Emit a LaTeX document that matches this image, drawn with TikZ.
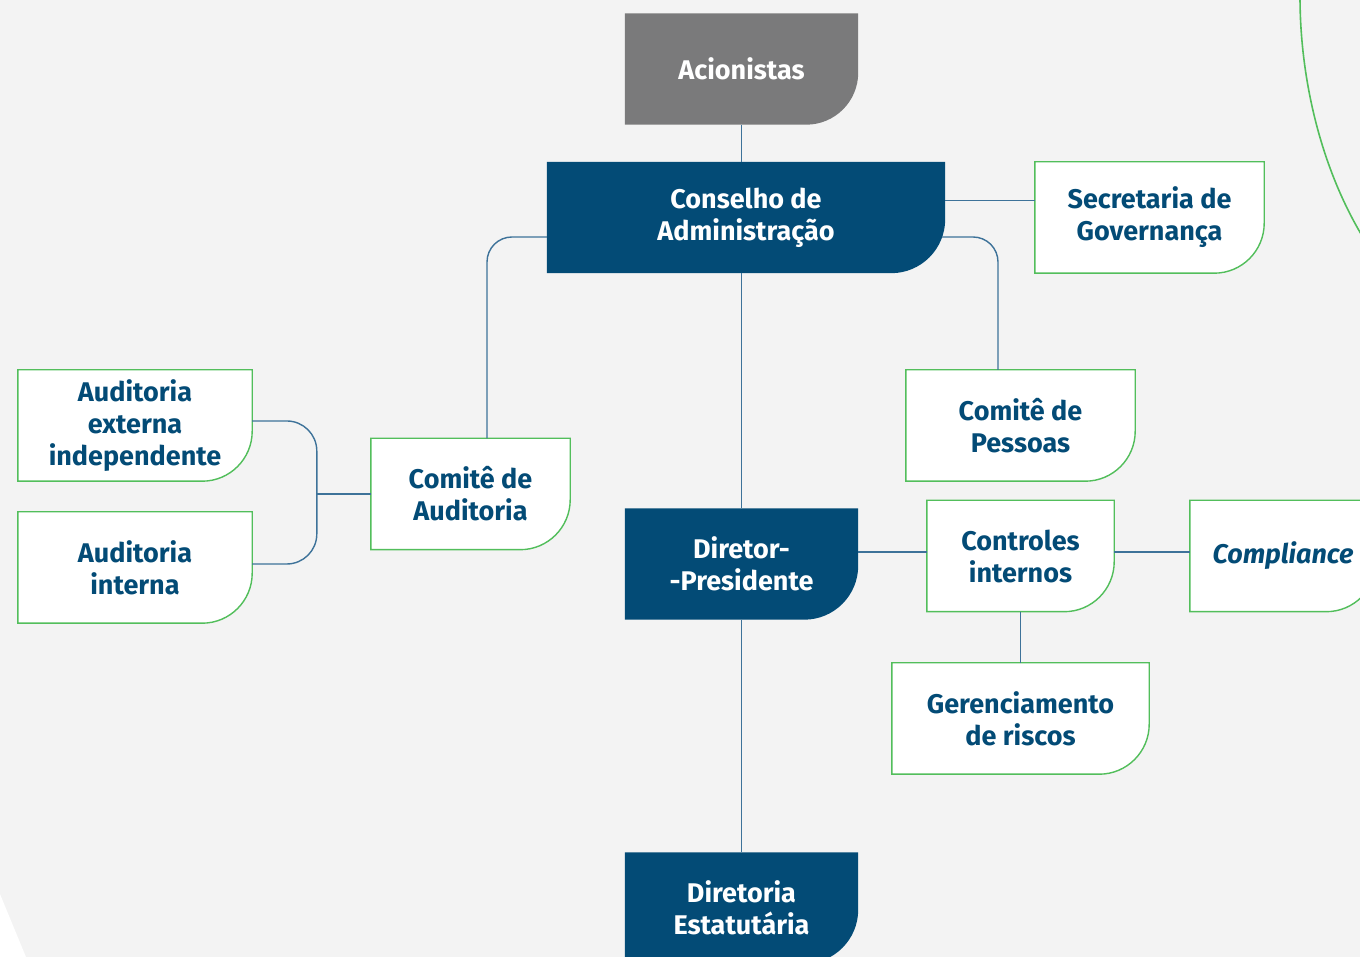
\documentclass[tikz,border=0pt]{standalone}
\usepackage{fontspec}
\setmainfont{Fira Sans}
\usetikzlibrary{positioning,backgrounds,calc}
\definecolor{navy}{HTML}{034B76}
\definecolor{stone}{HTML}{7A7A7B}
\definecolor{leafgreen}{HTML}{52BE5B}
\definecolor{wire}{HTML}{3D7299}
\definecolor{paper}{HTML}{F3F3F3}

\begin{document}
\begin{tikzpicture}[x=1pt, y=1pt,
    every node/.style={align=center, inner sep=0pt, font=\fontsize{27}{32}\selectfont\bfseries},
    main/.style={text=white, minimum height=111pt},
    leaf/.style={text=navy, minimum height=111pt},
    link/.style={draw=wire, line width=1.4pt},
    leafframe/.style={fill=white, draw=leafgreen, line width=1.4pt}]
    \useasboundingbox (0,0) rectangle (1360,957);

    \node[main, minimum width=233pt] (acio) at (741.5,888) {Acionistas};
    \node[main, minimum width=398pt] (cons) at (746,739.5) {Conselho de\\Administração};
    \node[leaf, minimum width=229pt] (sec) at (1149.5,739.5) {Secretaria de\\Governança};
    \node[leaf, minimum width=229pt] (pes) at (1020.5,531.5) {Comitê de\\Pessoas};
    \node[leaf, minimum width=199pt] (cau) at (470.5,463) {Comitê de\\Auditoria};
    \node[leaf, minimum width=234pt] (aext) at (135,531.5) {Auditoria\\externa\\independente};
    \node[leaf, minimum width=234pt] (aint) at (135,389.5) {Auditoria\\interna};
    \node[main, minimum width=233pt] (dir) at (741.5,393) {Diretor-\\-Presidente};
    \node[leaf, minimum width=187pt] (ctr) at (1020.5,401) {Controles\\internos};
    \node[leaf, minimum width=186pt] (comp) at (1283,401) {\itshape Compliance};
    \node[leaf, minimum width=257pt] (ger) at (1020.5,238.5) {Gerenciamento\\de riscos};
    \node[main, minimum width=233pt] (dte) at (741.5,49) {Diretoria\\Estatutária};
    \coordinate (fork) at ([xshift=-54pt]cau.west);

    \begin{pgfonlayer}{background}
        \fill[paper] (0,0) rectangle (1360,957);
        \fill[white] (0,0) -- (0,63) -- (26,0) -- cycle;
        \begin{scope}
            \clip (0,0) rectangle (1360,957);
            \draw[leafgreen, line width=1.6pt] (1300,960) .. controls (1300,880) and (1320,790) .. (1364,718);
        \end{scope}
        \fill[stone] (acio.north west) -- (acio.north east) -- ([yshift=52pt]acio.south east)
            arc[start angle=0, end angle=-90, radius=52pt] -- (acio.south west) -- cycle;
        \foreach \n in {cons,dir,dte}
            \fill[navy] (\n.north west) -- (\n.north east) -- ([yshift=54pt]\n.south east)
                arc[start angle=0, end angle=-90, radius=54pt] -- (\n.south west) -- cycle;
        \foreach \n in {sec,pes,cau,aext,aint,ctr,comp,ger}
            \filldraw[leafframe] (\n.north west) -- (\n.north east) -- ([yshift=50pt]\n.south east)
                arc[start angle=0, end angle=-90, radius=50pt] -- (\n.south west) -- cycle;
    \end{pgfonlayer}

    \draw[link] (acio.south) -- (acio |- cons.north);
    \draw[link] (dir.north) -- (dir |- cons.south);
    \draw[link] (dir.south) -- (dte.north);
    \draw[link] ([yshift=17pt]cons.east) -- ([yshift=17pt]sec.west);
    \draw[link, rounded corners=25pt] ([yshift=-19.5pt]cons.west) -| ([xshift=16.5pt]cau.north);
    \draw[link, rounded corners=25pt] ([xshift=-3pt, yshift=-19.5pt]cons.east) -| ([xshift=-22.5pt]pes.north);
    \draw[link] (cau.west) -- (fork);
    \draw[link, rounded corners=30pt] ([yshift=4.5pt]aext.east) -| (fork) |- ([yshift=3.5pt]aint.east);
    \draw[link] ([yshift=12pt]dir.east) -- ([yshift=4pt]ctr.west);
    \draw[link] ([yshift=4pt]ctr.east) -- ([yshift=4pt]comp.west);
    \draw[link] (ctr.south) -- (ger.north);
\end{tikzpicture}
\end{document}
